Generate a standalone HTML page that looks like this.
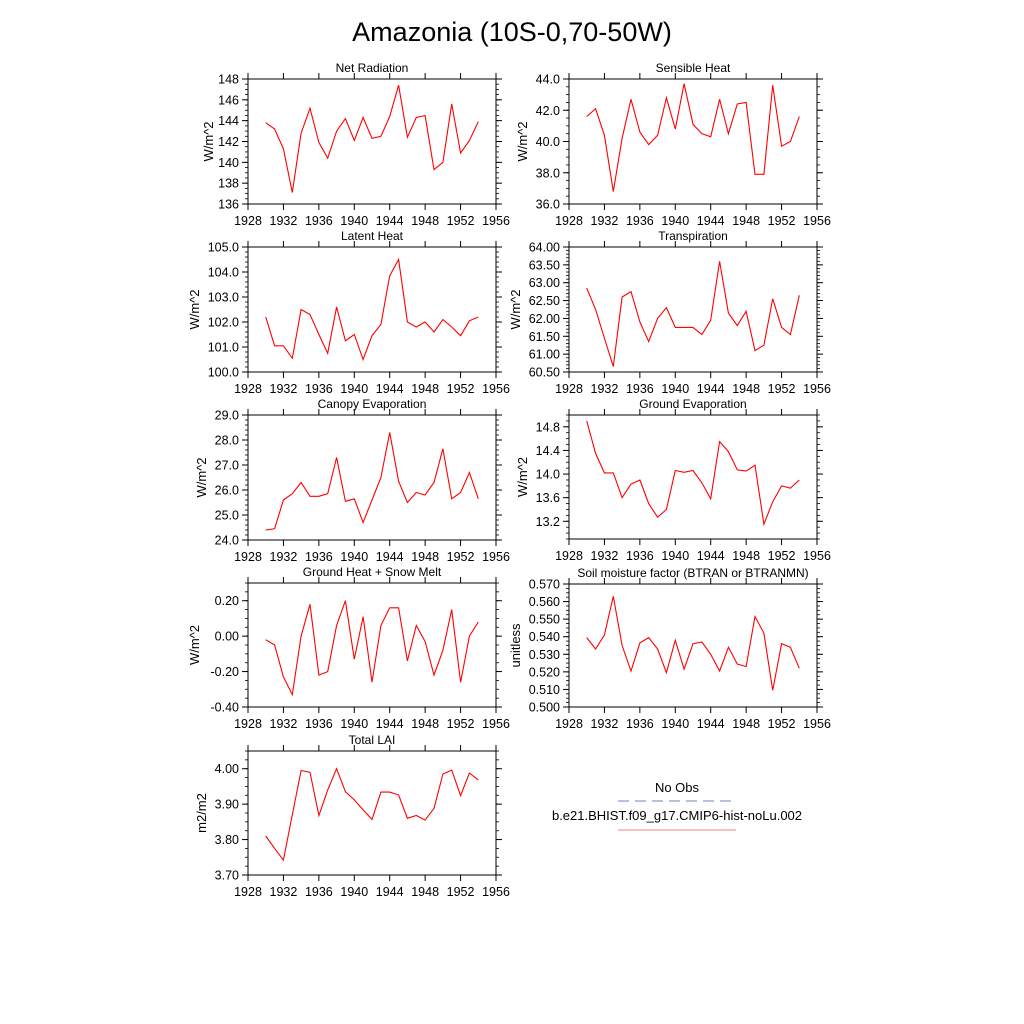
<!DOCTYPE html>
<html><head><meta charset="utf-8"><style>
body{margin:0;background:#fff}
svg{display:block;font-family:"Liberation Sans",sans-serif}
</style></head><body>
<svg id="c" width="1024" height="1024" viewBox="0 0 1024 1024">
<text x="512" y="41" font-size="27" text-anchor="middle">Amazonia (10S-0,70-50W)</text>
<g>
<text x="677" y="792" font-size="13" text-anchor="middle">No Obs</text>
<line x1="618" y1="801" x2="736" y2="801" stroke="#7080c0" stroke-width="1" stroke-dasharray="11,6"/>
<text x="677" y="820" font-size="13" text-anchor="middle">b.e21.BHIST.f09_g17.CMIP6-hist-noLu.002</text>
<line x1="618" y1="830" x2="736" y2="830" stroke="#f08080" stroke-width="1"/>
</g>
</svg>
<script>
const years=[1930,1931,1932,1933,1934,1935,1936,1937,1938,1939,1940,1941,1942,1943,1944,1945,1946,1947,1948,1949,1950,1951,1952,1953,1954];
const xTicks=[1928,1932,1936,1940,1944,1948,1952,1956];
const netRad=[143.8,143.2,141.3,137.1,142.8,145.2,141.9,140.4,143.0,144.2,142.1,144.3,142.3,142.5,144.4,147.4,142.4,144.3,144.5,139.3,140.0,145.6,140.9,142.1,143.9];
const sensible=[41.6,42.1,40.4,36.8,40.2,42.7,40.6,39.8,40.4,42.8,40.8,43.7,41.1,40.5,40.3,42.7,40.5,42.4,42.5,37.9,37.9,43.6,39.7,40.0,41.6];
const latent=[102.2,101.05,101.05,100.55,102.5,102.3,101.5,100.75,102.6,101.25,101.5,100.5,101.45,101.9,103.85,104.5,102.0,101.8,102.0,101.6,102.1,101.8,101.45,102.05,102.2];
const transp=[62.85,62.25,61.45,60.65,62.6,62.75,61.9,61.35,62.0,62.3,61.75,61.75,61.75,61.55,61.95,63.6,62.15,61.8,62.2,61.1,61.25,62.55,61.75,61.55,62.65];
const canopy=[24.4,24.45,25.6,25.85,26.3,25.75,25.75,25.85,27.3,25.55,25.65,24.7,25.6,26.5,28.3,26.35,25.5,25.9,25.8,26.3,27.65,25.65,25.9,26.7,25.65];
const groundEvap=[14.9,14.35,14.02,14.02,13.6,13.83,13.9,13.5,13.27,13.4,14.06,14.03,14.06,13.85,13.58,14.55,14.38,14.07,14.05,14.15,13.15,13.53,13.8,13.76,13.9];
const groundHeat=[-0.02,-0.05,-0.23,-0.33,0.0,0.18,-0.22,-0.20,0.06,0.20,-0.13,0.11,-0.26,0.06,0.16,0.16,-0.14,0.06,-0.03,-0.22,-0.08,0.15,-0.26,0.0,0.08];
const soil=[0.5395,0.533,0.541,0.563,0.535,0.5205,0.5365,0.5395,0.533,0.5195,0.538,0.5215,0.536,0.537,0.530,0.5205,0.534,0.5245,0.523,0.5515,0.542,0.5095,0.536,0.534,0.522];
const lai=[3.81,3.775,3.742,3.87,3.995,3.99,3.868,3.94,4.0,3.935,3.912,3.884,3.857,3.934,3.934,3.926,3.86,3.868,3.855,3.888,3.985,3.996,3.924,3.988,3.968];

const panels=[
 {name:'net-radiation',title:'Net Radiation',unit:'W/m^2',data:netRad,x0:248,x1:496,y0:79,y1:204,min:136,max:148,ticks:[136,138,140,142,144,146,148],dec:0,minor:0.5},
 {name:'sensible-heat',title:'Sensible Heat',unit:'W/m^2',data:sensible,x0:569,x1:817,y0:79,y1:204,min:36,max:44,ticks:[36,38,40,42,44],dec:1,minor:0.5},
 {name:'latent-heat',title:'Latent Heat',unit:'W/m^2',data:latent,x0:248,x1:496,y0:247,y1:372,min:100,max:105,ticks:[100,101,102,103,104,105],dec:1,minor:0.2},
 {name:'transpiration',title:'Transpiration',unit:'W/m^2',data:transp,x0:569,x1:817,y0:247,y1:372,min:60.5,max:64,ticks:[60.5,61,61.5,62,62.5,63,63.5,64],dec:2,minor:0.1},
 {name:'canopy-evaporation',title:'Canopy Evaporation',unit:'W/m^2',data:canopy,x0:248,x1:496,y0:415,y1:540,min:24,max:29,ticks:[24,25,26,27,28,29],dec:1,minor:0.2},
 {name:'ground-evaporation',title:'Ground Evaporation',unit:'W/m^2',data:groundEvap,x0:569,x1:817,y0:415,y1:539,min:12.9,max:15.0,ticks:[13.2,13.6,14.0,14.4,14.8],dec:1,minor:0.1},
 {name:'ground-heat',title:'Ground Heat + Snow Melt',unit:'W/m^2',data:groundHeat,x0:248,x1:496,y0:583,y1:707,min:-0.4,max:0.3,ticks:[-0.4,-0.2,0,0.2],dec:2,minor:0.05},
 {name:'soil-moisture',title:'Soil moisture factor (BTRAN or BTRANMN)',unit:'unitless',data:soil,x0:569,x1:817,y0:584,y1:707,min:0.5,max:0.57,ticks:[0.5,0.51,0.52,0.53,0.54,0.55,0.56,0.57],dec:3,minor:0.0025},
 {name:'total-lai',title:'Total LAI',unit:'m2/m2',data:lai,x0:248,x1:496,y0:751,y1:875,min:3.7,max:4.05,ticks:[3.7,3.8,3.9,4.0],dec:2,minor:0.025}
];
const NS='http://www.w3.org/2000/svg';
const svg=document.getElementById('c');
function mk(tag,attrs,parent){const e=document.createElementNS(NS,tag);for(const k in attrs)e.setAttribute(k,attrs[k]);parent.appendChild(e);return e;}
panels.forEach(p=>{
 const g=mk('g',{},svg);
 
 
 const xs=v=>p.x0+(v-1928)/(1956-1928)*(p.x1-p.x0);
 const ys=v=>p.y1-(v-p.min)/(p.max-p.min)*(p.y1-p.y0);
 const t=mk('text',{x:(p.x0+p.x1)/2,y:p.y0-7,'font-size':12,'text-anchor':'middle'},g);
 t.textContent=p.title;
 
 
 // minor y ticks
 const nMin=Math.round((p.max-p.min)/p.minor);
 for(let i=0;i<=nMin;i++){const y=ys(p.min+i*p.minor);
  mk('line',{x1:p.x0-3,x2:p.x0,y1:y,y2:y,stroke:'#000','stroke-width':0.8},g);
  mk('line',{x1:p.x1,x2:p.x1+3,y1:y,y2:y,stroke:'#000','stroke-width':0.8},g);}
 let maxw=0;
 p.ticks.forEach(v=>{const y=ys(v);
  mk('line',{x1:p.x0-6,x2:p.x0,y1:y,y2:y,stroke:'#000','stroke-width':1},g);
  mk('line',{x1:p.x1,x2:p.x1+6,y1:y,y2:y,stroke:'#000','stroke-width':1},g);
  const lab=mk('text',{x:p.x0-9,y:y+4.5,'font-size':12.5,'text-anchor':'end'},g);
  lab.textContent=v.toFixed(p.dec);
  
  
  maxw=Math.max(maxw,lab.textContent.length);});
 xTicks.forEach(v=>{const x=xs(v);
  mk('line',{x1:x,x2:x,y1:p.y1,y2:p.y1+6,stroke:'#000','stroke-width':1},g);
  mk('line',{x1:x,x2:x,y1:p.y0-6,y2:p.y0,stroke:'#000','stroke-width':1},g);
  const lab=mk('text',{x:x,y:p.y1+21,'font-size':12.5,'text-anchor':'middle'},g);
  lab.textContent=v;
  
  });
 mk('rect',{x:p.x0,y:p.y0,width:p.x1-p.x0,height:p.y1-p.y0,fill:'none',stroke:'#000','stroke-width':1},g);
 const ax=p.x0-14-maxw*7;
 const yt=mk('text',{x:0,y:0,'font-size':13,'text-anchor':'middle',transform:`translate(${ax},${(p.y0+p.y1)/2}) rotate(-90)`},g);
 yt.textContent=p.unit;
 
 
 const pts=p.data.map((v,i)=>xs(years[i]).toFixed(1)+','+ys(v).toFixed(1)).join(' ');
 const line=mk('polyline',{points:pts,fill:'none',stroke:'#ff0000','stroke-width':1.1},g);
 
 
});
</script>
</body></html>
